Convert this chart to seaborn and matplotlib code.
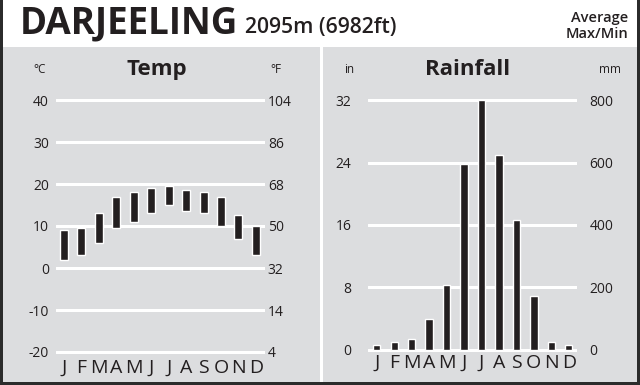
import seaborn as sns
import matplotlib.pyplot as plt
import pandas as pd
from matplotlib.patches import Rectangle

# data
months = ["Jan", "Feb", "Mar", "Apr", "May", "Jun", "Jul", "Aug", "Sep", "Oct", "Nov", "Dec"]
month_letters = ["J", "F", "M", "A", "M", "J", "J", "A", "S", "O", "N", "D"]
temp_max = [9, 9.5, 13, 17, 18, 19, 19.5, 18.5, 18, 17, 12.5, 10]
temp_min = [2, 3, 6, 9.5, 11, 13, 15, 13.5, 13, 10, 7, 3]
rain_mm = [15, 25, 35, 100, 207, 595, 800, 625, 415, 172, 25, 15]

c_ticks = [-20, -10, 0, 10, 20, 30, 40]
f_labels = ["4", "14", "32", "50", "68", "86", "104"]
mm_ticks = [0, 200, 400, 600, 800]
in_labels = ["0", "8", "16", "24", "32"]

PANEL = "#dcdddf"
INK = "#231f20"
W, H = 640, 385

sns.set_theme(style="white")
plt.rcParams["font.family"] = ["Open Sans", "DejaVu Sans"]

fig = plt.figure(figsize=(W / 100, H / 100), dpi=100)
fig.patch.set_facecolor("#2b2b2b")


def frac(x0, y0, x1, y1):
    # pixel box (top-left origin) -> figure fraction rect
    return [x0 / W, 1 - y1 / H, (x1 - x0) / W, (y1 - y0) / H]


def rect(x0, y0, x1, y1, color):
    l, b, w, h = frac(x0, y0, x1, y1)
    fig.patches.append(Rectangle((l, b), w, h, transform=fig.transFigure,
                                 facecolor=color, edgecolor="none", zorder=-1))


rect(3, 0, 637, 382, "white")
rect(3, 46.5, 320.5, 382, PANEL)
rect(322.5, 46.5, 637, 382, PANEL)

fig.text(20 / W, 1 - 33 / H, "DARJEELING", fontsize=26.5, fontweight="bold",
         color=INK, va="baseline")
fig.text(245 / W, 1 - 33 / H, "2095m (6982ft)", fontsize=15.2, fontweight="semibold",
         color=INK, va="baseline")
fig.text(628 / W, 1 - 22 / H, "Average", fontsize=10.5, fontweight="semibold",
         color=INK, ha="right", va="baseline")
fig.text(628 / W, 1 - 38 / H, "Max/Min", fontsize=10.5, fontweight="semibold",
         color=INK, ha="right", va="baseline")


def style_axis(ax, letters, month_pad):
    ax.set_facecolor("none")
    for s in ax.spines.values():
        s.set_visible(False)
    ax.set_xlabel("")
    ax.set_ylabel("")
    ax.grid(False)
    ax.yaxis.grid(True, color="white", linewidth=2.2)
    ax.set_axisbelow(True)
    ax.set_xticks(range(12))
    ax.set_xticklabels(letters, fontsize=14, color=INK)
    ax.tick_params(axis="x", length=0, pad=month_pad)


# ---- Temp panel ----
temp_df = pd.DataFrame({"month": months, "span": [a - b for a, b in zip(temp_max, temp_min)]})
ax1 = fig.add_axes(frac(56, 91.6, 265, 360.4))
sns.barplot(data=temp_df, x="month", y="span", order=months, color=INK,
            width=0.46, saturation=1, ax=ax1)
for p, lo in zip(ax1.patches, temp_min):
    p.set_y(lo)
ax1.set_xlim(-0.46, 11.52)
ax1.set_ylim(-22, 42)
style_axis(ax1, month_letters, -1)
ax1.set_yticks(c_ticks)
ax1.set_yticklabels([str(t) for t in c_ticks], fontsize=10, color=INK)
ax1.tick_params(axis="y", length=0, pad=5)
ax1r = ax1.twinx()
ax1r.set_ylim(ax1.get_ylim())
ax1r.set_yticks(c_ticks)
ax1r.set_yticklabels(f_labels, fontsize=10, color=INK)
ax1r.tick_params(axis="y", length=0, pad=2)
for s in ax1r.spines.values():
    s.set_visible(False)
ax1r.grid(False)

fig.text(157 / W, 1 - 75 / H, "Temp", fontsize=16, fontweight="bold",
         color=INK, ha="center", va="baseline")
fig.text(40 / W, 1 - 73 / H, "°C", fontsize=8.5, color=INK, ha="center", va="baseline")
fig.text(276 / W, 1 - 73 / H, "°F", fontsize=8.5, color=INK, ha="center", va="baseline")

# ---- Rainfall panel ----
rain_df = pd.DataFrame({"month": months, "mm": rain_mm})
ax2 = fig.add_axes(frac(368, 92.2, 577, 357.8))
sns.barplot(data=rain_df, x="month", y="mm", order=months, color=INK,
            width=0.42, saturation=1, ax=ax2)
ax2.set_xlim(-0.5, 11.47)
ax2.set_ylim(-25, 825)
style_axis(ax2, month_letters, -3)
ax2.set_yticks(mm_ticks)
ax2.set_yticklabels(in_labels, fontsize=10, color=INK)
ax2.tick_params(axis="y", length=0, pad=12)
ax2r = ax2.twinx()
ax2r.set_ylim(ax2.get_ylim())
ax2r.set_yticks(mm_ticks)
ax2r.set_yticklabels([str(t) for t in mm_ticks], fontsize=10, color=INK)
ax2r.tick_params(axis="y", length=0, pad=9)
for s in ax2r.spines.values():
    s.set_visible(False)
ax2r.grid(False)

fig.text(468 / W, 1 - 75 / H, "Rainfall", fontsize=16, fontweight="bold",
         color=INK, ha="center", va="baseline")
fig.text(349 / W, 1 - 73 / H, "in", fontsize=8.5, color=INK, ha="center", va="baseline")
fig.text(610 / W, 1 - 73 / H, "mm", fontsize=8.5, color=INK, ha="center", va="baseline")

fig.savefig("out.png", dpi=100, facecolor=fig.get_facecolor())
